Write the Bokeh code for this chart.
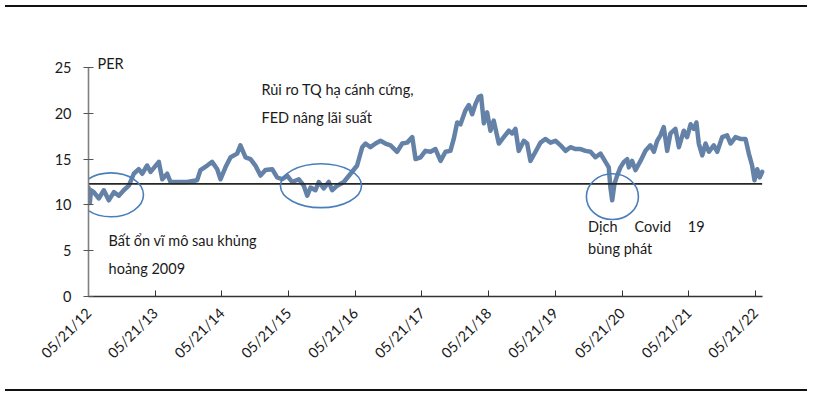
import math
import pandas as pd
from bokeh.plotting import figure
from bokeh.models import (Range1d, FixedTicker, DatetimeTickFormatter, Div, ColumnDataSource)
from bokeh.layouts import column
from bokeh.core.properties import value
from bokeh.embed import file_html
from bokeh.resources import INLINE

# ---------------- data ----------------
dates = [
    "2012-05-21", "2012-05-28", "2012-06-04", "2012-06-19", "2012-07-16", "2012-08-13", "2012-09-09",
    "2012-10-07", "2012-11-03", "2012-11-30", "2012-12-28", "2013-01-24", "2013-02-20", "2013-03-11",
    "2013-04-07", "2013-04-26", "2013-06-10", "2013-06-29", "2013-07-26", "2013-08-13", "2013-09-19",
    "2013-11-12", "2014-01-06", "2014-01-24", "2014-03-02", "2014-03-29", "2014-04-26", "2014-05-14",
    "2014-06-10", "2014-07-08", "2014-08-13", "2014-08-31", "2014-09-28", "2014-10-25", "2014-11-21",
    "2014-12-19", "2015-01-15", "2015-02-21", "2015-03-20", "2015-04-17", "2015-05-14", "2015-06-10",
    "2015-07-17", "2015-08-13", "2015-09-01", "2015-09-19", "2015-10-16", "2015-11-03", "2015-11-30",
    "2015-12-28", "2016-01-15", "2016-02-12", "2016-03-19", "2016-04-25", "2016-05-31", "2016-06-28",
    "2016-07-16", "2016-08-12", "2016-09-09", "2016-10-06", "2016-11-02", "2016-11-30", "2017-01-05",
    "2017-02-02", "2017-03-01", "2017-03-29", "2017-04-16", "2017-05-13", "2017-06-09", "2017-07-07",
    "2017-08-03", "2017-08-31", "2017-09-27", "2017-10-24", "2017-11-11", "2017-11-30", "2017-12-18",
    "2018-01-14", "2018-02-02", "2018-02-20", "2018-03-10", "2018-03-28", "2018-04-10", "2018-04-25",
    "2018-05-13", "2018-05-31", "2018-06-18", "2018-07-16", "2018-08-12", "2018-09-09", "2018-09-27",
    "2018-10-15", "2018-11-02", "2018-11-30", "2018-12-18", "2019-01-05", "2019-02-02", "2019-03-01",
    "2019-03-29", "2019-04-25", "2019-05-22", "2019-06-19", "2019-07-16", "2019-08-12", "2019-09-09",
    "2019-10-06", "2019-11-03", "2019-11-30", "2019-12-27", "2020-01-24", "2020-02-20", "2020-03-09",
    "2020-03-18", "2020-03-28", "2020-04-09", "2020-04-24", "2020-05-12", "2020-05-31", "2020-06-18",
    "2020-06-27", "2020-07-15", "2020-08-02", "2020-08-30", "2020-09-26", "2020-10-23", "2020-11-11",
    "2020-11-29", "2020-12-17", "2021-01-04", "2021-01-23", "2021-02-10", "2021-03-09", "2021-03-28",
    "2021-04-24", "2021-05-12", "2021-05-31", "2021-06-18", "2021-07-02", "2021-07-15", "2021-08-03",
    "2021-08-21", "2021-09-08", "2021-10-05", "2021-10-24", "2021-11-20", "2021-12-17", "2022-01-05",
    "2022-02-01", "2022-02-28", "2022-03-28", "2022-04-15", "2022-05-03", "2022-05-16", "2022-05-31",
    "2022-06-14", "2022-06-27",
]
per = [
    11.9, 10.2, 11.6, 11.4, 10.7, 11.6, 10.5,
    11.4, 11.0, 11.6, 12.1, 13.4, 13.9, 13.4,
    14.3, 13.6, 14.7, 12.8, 13.4, 12.5, 12.5,
    12.5, 12.7, 13.8, 14.3, 14.7, 13.9, 12.8,
    14.1, 15.2, 15.6, 16.5, 15.2, 15.0, 14.3,
    13.2, 13.8, 13.9, 13.0, 12.8, 13.2, 12.5,
    12.8, 12.1, 11.0, 11.9, 11.6, 12.5, 11.8,
    12.5, 11.6, 12.1, 12.5, 13.4, 14.3, 16.3,
    16.7, 16.3, 16.7, 17.0, 16.7, 16.5, 15.8,
    16.7, 16.8, 17.4, 15.0, 15.2, 15.9, 15.8,
    16.1, 14.8, 15.8, 15.9, 17.2, 19.0, 18.8,
    20.3, 20.9, 19.9, 21.0, 21.8, 21.9, 18.9,
    20.1, 18.1, 19.2, 16.7, 17.4, 18.1, 17.8,
    18.3, 15.9, 17.0, 16.7, 14.8, 15.8, 16.8,
    17.2, 16.8, 17.0, 16.5, 15.9, 16.3, 16.1,
    16.1, 15.9, 15.8, 15.2, 15.6, 14.7, 14.1,
    11.9, 10.5, 12.3, 13.2, 14.1, 14.7, 15.0,
    14.1, 14.8, 13.8, 14.8, 15.9, 16.5, 15.8,
    17.0, 17.6, 18.5, 15.9, 17.8, 18.3, 16.3,
    18.1, 17.4, 18.8, 18.3, 19.0, 16.7, 15.4,
    16.7, 15.8, 16.5, 15.8, 17.4, 17.6, 16.7,
    17.4, 17.2, 17.2, 15.6, 14.3, 12.7, 13.9,
    13.0, 13.6,
]
reference_level = 12.3
y_ticks = [0, 5, 10, 15, 20, 25]
x_tick_dates = ["2012-05-21", "2013-05-21", "2014-05-21", "2015-05-21", "2016-05-21", "2017-05-21",
                "2018-05-21", "2019-05-21", "2020-05-21", "2021-05-21", "2022-05-21"]
y_label = "PER"

# annotations: (text, left date, y value)
notes_text = ["Rủi ro TQ hạ cánh cứng,", "FED nâng lãi suất", "Bất ổn vĩ mô sau khủng", "hoảng 2009",
              "Dịch", "Covid", "19", "bùng phát"]
notes_x = ["2014-12-24", "2014-12-24", "2012-09-08", "2012-09-08",
           "2019-11-17", "2020-07-28", "2021-05-16", "2019-11-17"]
notes_y = [22.6, 19.5, 6.1, 3.05, 7.6, 7.6, 7.6, 5.2]

# circles drawn around episodes: center date, center value, width (days), height (PER units)
ell_x = ["2012-09-21", "2015-11-15", "2020-03-29"]
ell_y = [11.1, 12.1, 10.9]
ell_w_days = [356, 444, 285]
ell_h = [4.8, 4.8, 5.0]

# ---------------- figure ----------------
FONT = "Lato"
FS = "14.5px"
TXT = "#1a1a1a"

W, H = 802, 372
x0 = pd.Timestamp(dates[0])
x1 = x0 + pd.Timedelta(days=3899)

p = figure(width=W, height=H, output_backend="svg", toolbar_location=None,
           x_axis_type="datetime",
           x_range=Range1d(x0, x1), y_range=Range1d(0, 29.04),
           min_border_left=88, min_border_right=2, min_border_top=18, min_border_bottom=88)
p.outline_line_color = None
p.grid.visible = False
p.background_fill_color = "white"
p.border_fill_color = "white"

xs = pd.to_datetime(dates)
p.line(xs, per, line_width=4.5, line_color="#6482A8", line_join="round", line_cap="round")
p.segment(x0=[xs[0]], y0=[reference_level], x1=[xs[-1]], y1=[reference_level],
          line_color="#262626", line_width=1.6)

ms_day = 86400000.0
ell_src = ColumnDataSource(dict(
    x=pd.to_datetime(ell_x), y=ell_y,
    w=[d * ms_day for d in ell_w_days], h=ell_h))
p.ellipse(x="x", y="y", width="w", height="h", source=ell_src,
          fill_color=None, line_color="#4A7EBB", line_width=1.6)

p.text(x=pd.to_datetime(notes_x), y=notes_y, text=notes_text,
       text_font=value(FONT), text_font_size=FS, text_color=TXT,
       text_align="left", text_baseline="middle")
p.text(x=[x0 + pd.Timedelta(days=49)], y=[25.4], text=[y_label],
       text_font=value(FONT), text_font_size=FS, text_color=TXT,
       text_align="left", text_baseline="middle")

# axes
xa = p.xaxis[0]
xa.ticker = FixedTicker(ticks=[pd.Timestamp(d).value / 1e6 for d in x_tick_dates])
xa.formatter = DatetimeTickFormatter(days="%m/%d/%y", months="%m/%d/%y", years="%m/%d/%y",
                                     hours="%m/%d/%y", minutes="%m/%d/%y")
xa.major_label_orientation = math.pi / 4
xa.bounds = (x0, xs[-1])
xa.axis_line_color = "#333333"
xa.axis_line_width = 1.6
xa.major_tick_line_color = "#333333"
xa.major_tick_in = 6
xa.major_tick_out = 0
xa.minor_tick_line_color = None
xa.major_label_text_font = FONT
xa.major_label_text_font_size = FS
xa.major_label_text_color = TXT
xa.major_label_standoff = 14

ya = p.yaxis[0]
ya.ticker = FixedTicker(ticks=y_ticks)
ya.bounds = (0, 25)
ya.axis_line_color = "#808080"
ya.axis_line_width = 1.6
ya.major_tick_line_color = "#555555"
ya.major_tick_in = 5
ya.major_tick_out = 5
ya.minor_tick_line_color = None
ya.major_label_text_font = FONT
ya.major_label_text_font_size = FS
ya.major_label_text_color = TXT
ya.major_label_standoff = 12

top_rule = Div(text="", width=W, height=2, styles={"background-color": "#111111"})
bottom_rule = Div(text="", width=W, height=2, styles={"background-color": "#111111"})
layout = column(top_rule, p, bottom_rule, spacing=0)

open("out.html", "w").write(file_html(layout, INLINE))
